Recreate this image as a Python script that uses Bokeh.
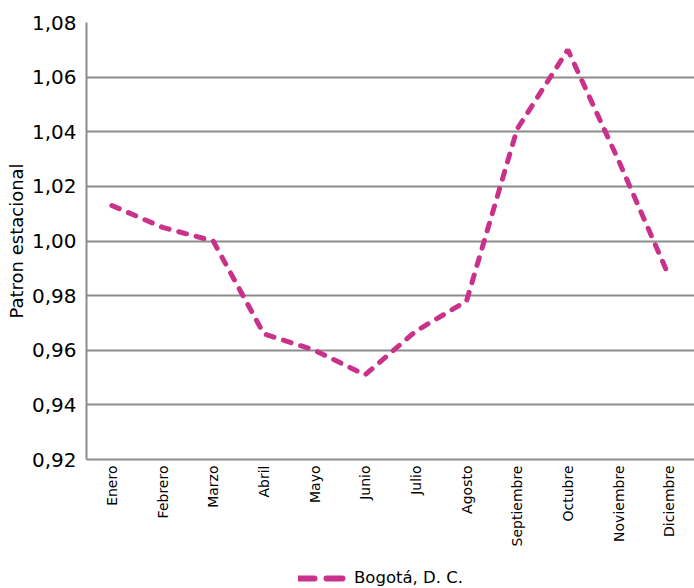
from bokeh.plotting import figure
from bokeh.models import FixedTicker, CustomJSTickFormatter, Legend, LegendItem, Range1d
from bokeh.layouts import column
from bokeh.embed import file_html
from bokeh.resources import INLINE
import math

months = ["Enero", "Febrero", "Marzo", "Abril", "Mayo", "Junio", "Julio",
          "Agosto", "Septiembre", "Octubre", "Noviembre", "Diciembre"]
bogota = [1.013, 1.005, 1.000, 0.966, 0.960, 0.951, 0.967, 0.978, 1.041, 1.070, 1.0295, 0.987]
y_ticks = [0.92, 0.94, 0.96, 0.98, 1.00, 1.02, 1.04, 1.06, 1.08]
series_name = "Bogotá, D. C."

FONT = "DejaVu Sans"
GRAY = "#8c8c8c"
PINK = "#c9318a"
LINE_STYLE = dict(line_color=PINK, line_width=5, line_dash="8 10", line_cap="round")

p = figure(x_range=months, y_range=(0.92, 1.08), width=694, height=552,
           output_backend="svg", toolbar_location=None,
           min_border_left=86, min_border_right=0, min_border_top=22, min_border_bottom=93)
p.outline_line_color = None
p.background_fill_color = "white"
p.border_fill_color = "white"

r = p.line(months, bogota, **LINE_STYLE)

p.xgrid.grid_line_color = None
p.ygrid.grid_line_color = GRAY
p.ygrid.grid_line_width = 2
p.yaxis.ticker = FixedTicker(ticks=y_ticks)
p.yaxis.formatter = CustomJSTickFormatter(code="return tick.toFixed(2).replace('.', ',');")

for ax in (p.xaxis[0], p.yaxis[0]):
    ax.axis_line_color = GRAY
    ax.axis_line_width = 2
    ax.major_tick_line_color = None
    ax.minor_tick_line_color = None
    ax.major_tick_out = 0
    ax.major_tick_in = 0
    ax.minor_tick_out = 0
    ax.minor_tick_in = 0
    ax.major_label_text_font = FONT
    ax.major_label_text_color = "black"

p.yaxis.major_label_text_font_size = "20px"
p.yaxis.major_label_standoff = 10
p.yaxis.axis_label = "Patron estacional"
p.yaxis.axis_label_text_font = FONT
p.yaxis.axis_label_text_font_size = "18px"
p.yaxis.axis_label_text_font_style = "normal"
p.yaxis.axis_label_text_color = "black"
p.yaxis.axis_label_standoff = 2

p.xaxis.major_label_orientation = math.pi / 2
p.xaxis.major_label_text_font_size = "14px"
p.xaxis.major_label_standoff = 6

# legend strip below the chart
lg = figure(width=694, height=36, output_backend="svg", toolbar_location=None,
            x_range=Range1d(0, 1), y_range=Range1d(0, 1),
            min_border_left=0, min_border_right=0, min_border_top=0, min_border_bottom=0)
lg.axis.visible = False
lg.grid.grid_line_color = None
lg.outline_line_color = None
lr = lg.line([float("nan"), float("nan")], [float("nan"), float("nan")],
             line_color=PINK, line_width=6, line_dash="16 12", line_cap="round")
legend = Legend(items=[LegendItem(label=series_name, renderers=[lr])],
                location=(212, 1), orientation="horizontal",
                label_text_font=FONT, label_text_font_size="16.5px",
                label_text_color="black", label_height=18,
                glyph_width=48, glyph_height=18, border_line_color=None,
                background_fill_alpha=0,
                padding=2, margin=0, spacing=0, label_standoff=8)
lg.add_layout(legend)

layout = column(p, lg, spacing=0)
open("out.html", "w").write(file_html(layout, INLINE))
